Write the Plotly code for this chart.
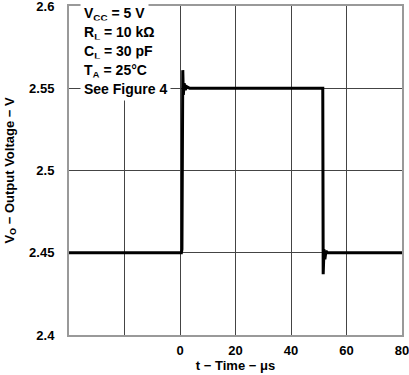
import plotly.graph_objects as go

# Data
time_us = [-40, 0.5, 0.7, 0.85, 1.0, 1.2, 1.5, 1.9, 2.4, 3.5, 51.3, 51.45, 51.6, 51.9, 52.2, 52.6, 53.2, 80]
vout = [2.45, 2.45, 2.452, 2.55, 2.561, 2.546, 2.553, 2.549, 2.551, 2.55, 2.55, 2.55, 2.437, 2.452, 2.446, 2.451, 2.45, 2.45]

x_tickvals = [-40, -20, 0, 20, 40, 60, 80]
x_ticktext = ["", "", "0", "20", "40", "60", "80"]
y_tickvals = [2.4, 2.45, 2.5, 2.55, 2.6]
y_ticktext = ["2.4", "2.45", "2.5", "2.55", "2.6"]

conditions = [
    "V<sub>CC</sub> = 5 V",
    "R<sub>L</sub> = 10 kΩ",
    "C<sub>L</sub> = 30 pF",
    "T<sub>A</sub> = 25°C",
    "See Figure 4",
]

FONT = "Liberation Sans, Arial, sans-serif"
PLOT_TOP, PLOT_H = 6, 329
line_px = [14, 33, 52, 71, 89]  # pixel centres of the condition lines

fig = go.Figure()
fig.add_trace(go.Scatter(x=time_us, y=vout, mode="lines",
                         line=dict(color="black", width=3), hoverinfo="skip"))

for t, py in zip(conditions, line_px):
    fig.add_annotation(
        xref="paper", yref="paper",
        x=0.032, y=1 - (py - PLOT_TOP) / PLOT_H,
        xanchor="left", yanchor="middle", align="left", showarrow=False,
        text=t, bgcolor="white", borderpad=3,
        font=dict(family=FONT, size=14, color="black", weight="bold"),
    )

fig.update_layout(
    width=409, height=375,
    margin=dict(l=69, r=7, t=6, b=40),
    paper_bgcolor="white", plot_bgcolor="white",
    showlegend=False,
    font=dict(family=FONT, size=13, color="black", weight="bold"),
)
fig.update_xaxes(
    range=[-40, 80], tickvals=x_tickvals, ticktext=x_ticktext,
    showgrid=True, gridcolor="#444", gridwidth=1,
    showline=True, linecolor="#999", linewidth=2, mirror=True,
    ticks="", ticklabelstandoff=2, zeroline=False, automargin=False,
    ticklabeloverflow="allow",
    tickfont=dict(family=FONT, size=13, color="black", weight="bold"),
    title=dict(text="t − Time − μs", standoff=0,
               font=dict(family=FONT, size=13, color="black", weight="bold")),
)
fig.update_yaxes(
    range=[2.4, 2.6], tickvals=y_tickvals, ticktext=y_ticktext,
    showgrid=True, gridcolor="#444", gridwidth=1,
    showline=True, linecolor="#999", linewidth=2, mirror=True,
    ticks="", ticklabelstandoff=10, zeroline=False, automargin=False,
    ticklabeloverflow="allow",
    tickfont=dict(family=FONT, size=13, color="black", weight="bold"),
    title=dict(text="V<sub>O</sub> − Output Voltage − V", standoff=12,
               font=dict(family=FONT, size=13, color="black", weight="bold")),
)

fig.write_html("out.html", config={"displayModeBar": False},
               post_script="document.body.style.margin='0';")
